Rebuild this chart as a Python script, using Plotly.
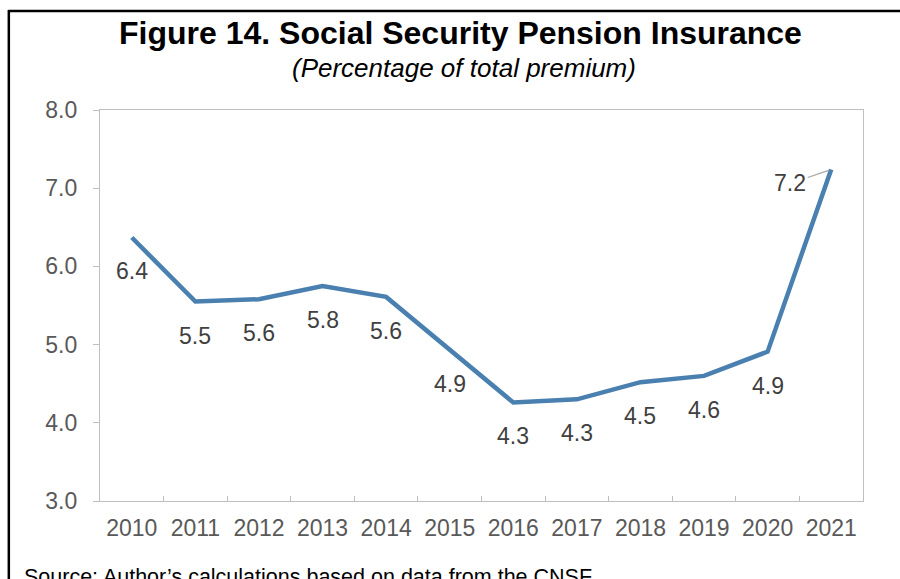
import plotly.graph_objects as go

# Pension insurance share of total premium, by year
years = ["2010", "2011", "2012", "2013", "2014", "2015",
         "2016", "2017", "2018", "2019", "2020", "2021"]
share = [6.37, 5.55, 5.58, 5.75, 5.61, 4.93,
         4.26, 4.30, 4.52, 4.60, 4.91, 7.24]
y_ticks = [3.0, 4.0, 5.0, 6.0, 7.0, 8.0]

FONT = "Liberation Sans, Arial, sans-serif"
LINE = "#4a80b0"
AXIS = "#bfbfbf"

fig = go.Figure()
fig.add_trace(go.Scatter(
    x=years, y=share, mode="lines",
    line=dict(color=LINE, width=4.5),
    hoverinfo="skip", showlegend=False,
))

annotations = []
# value labels under each point (category axis: position by index)
for i, v in enumerate(share[:-1]):
    annotations.append(dict(
        x=i, y=v, xref="x", yref="y", text=f"{v:.1f}",
        showarrow=False, yshift=-34,
        font=dict(family=FONT, size=23, color="#404040"),
    ))
# last label sits to the left with a leader line
last = len(share) - 1
annotations.append(dict(
    x=last, y=share[last], xref="x", yref="y", text=f"{share[last]:.1f}",
    showarrow=True, arrowhead=0, arrowwidth=1.2, arrowcolor="#a6a6a6",
    ax=-41, ay=14, standoff=2,
    font=dict(family=FONT, size=23, color="#404040"),
))
# titles and source note
annotations += [
    dict(text="<b>Figure 14. Social Security Pension Insurance</b>",
         xref="paper", yref="paper", x=0.473, y=1.197,
         xanchor="center", yanchor="middle", showarrow=False,
         font=dict(family=FONT, size=32, color="#000000")),
    dict(text="<i>(Percentage of total premium)</i>",
         xref="paper", yref="paper", x=0.477, y=1.107,
         xanchor="center", yanchor="middle", showarrow=False,
         font=dict(family=FONT, size=26, color="#000000")),
    dict(text="Source: Author\u2019s calculations based on data from the CNSF",
         xref="paper", yref="paper", x=-0.102, y=-0.158,
         xanchor="left", yanchor="top", showarrow=False,
         font=dict(family=FONT, size=21.5, color="#000000")),
]

fig.update_layout(
    width=900, height=579,
    margin=dict(l=100, r=37, t=110, b=78),
    paper_bgcolor="white", plot_bgcolor="white",
    annotations=annotations,
    shapes=[
        # outer frame: top and left rules
        dict(type="line", xref="paper", yref="paper",
             x0=-0.12, x1=1.06, y0=1.253, y1=1.253,
             line=dict(color="black", width=2.5)),
        dict(type="line", xref="paper", yref="paper",
             x0=-0.1195, x1=-0.1195, y0=1.256, y1=-0.3,
             line=dict(color="black", width=2.5)),
    ],
    xaxis=dict(
        type="category", range=[-0.5, len(years) - 0.5],
        showgrid=False, tickangle=0,
        showline=True, linecolor=AXIS, linewidth=1.3, mirror=True,
        ticks="inside", tickson="boundaries", ticklen=5, tickcolor=AXIS,
        tickfont=dict(family=FONT, size=23, color="#595959"),
        ticklabelstandoff=6,
    ),
    yaxis=dict(
        range=[3, 8], tickvals=y_ticks,
        ticktext=[f"{t:.1f}" for t in y_ticks],
        showgrid=False, zeroline=False,
        showline=True, linecolor=AXIS, linewidth=1.3, mirror=True,
        ticks="outside", ticklen=6, tickcolor=AXIS,
        tickfont=dict(family=FONT, size=23, color="#595959"),
        ticklabelstandoff=11,
    ),
)

fig.write_html("out.html")
